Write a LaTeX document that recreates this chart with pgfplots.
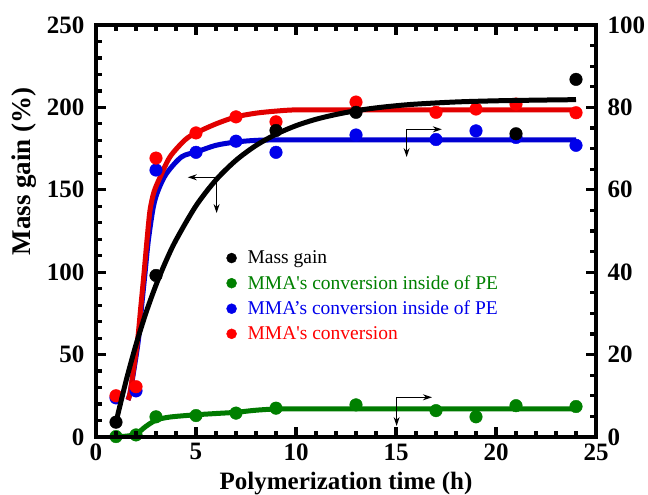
\documentclass[border=0pt]{standalone}
\usepackage{fontspec}
\setmainfont{Liberation Serif}
\usepackage{pgfplots}
\pgfplotsset{compat=1.18}
\usetikzlibrary{arrows.meta}
\definecolor{gpt}{RGB}{0,128,0}
\definecolor{gln}{RGB}{0,122,0}
\definecolor{bpt}{RGB}{0,0,235}
\definecolor{bln}{RGB}{0,0,210}
\definecolor{rpt}{RGB}{255,0,0}
\definecolor{rln}{RGB}{225,0,0}
\pgfplotsset{
  common/.style={
    width=500pt,height=412pt,scale only axis,
    xmin=0,xmax=25,
    clip=false,
    tick align=inside,
    major tick length=10pt,
    minor tick length=6pt,
    every tick/.style={black,line width=3.2pt},
    axis line style={line width=4pt},
    ticklabel style={font=\fontsize{25}{25}\selectfont\bfseries},
    /pgf/number format/assume math mode=true,
  }
}
\begin{document}
\begin{tikzpicture}
% right-hand scale: conversions (0-100)
\begin{axis}[common,
  ymin=0,ymax=100,
  axis y line*=right,
  hide x axis,
  ytick={0,20,...,100},
  minor y tick num=3,
  yticklabel style={xshift=8pt},
]
% green: MMA's conversion inside of PE
\addplot[gln,line width=5pt,smooth] coordinates {
 (1,0.1)(1.5,0.2)(2,0.7)(2.5,2.6)(3,4.1)(3.5,4.7)(4,5.0)(5,5.4)(6,5.7)(7,6.0)(8,6.5)(9,6.8)(10,6.8)(12,6.8)(16,6.8)(20,6.8)(24,6.8)};
\addplot[gpt,only marks,mark=*,mark size=6.3pt] coordinates {
 (1,0.1)(2,0.5)(3,4.9)(5,5.2)(7,5.8)(9,7.0)(13,7.8)(17,6.4)(19,4.9)(21,7.6)(24,7.4)};
% blue
\addplot[bln,line width=5pt,smooth] coordinates {
 (1.6,9)(1.7,10.6)(1.87,15.5)(2.12,23.5)(2.28,31.6)(2.45,39.7)(2.62,47.8)(2.87,55.9)(3.12,60)(3.53,64)(4.28,68)(5.03,69.2)(6,70.8)(7,71.6)(8,72)(9,72.1)(12,72.1)(16,72.1)(20,72.1)(24,72.1)};
\addplot[bpt,only marks,mark=*,mark size=6.3pt] coordinates {
 (1,9.5)(2,11.2)(3,64.8)(5,69.1)(7,71.8)(9,69.1)(13,73.3)(17,72.2)(19,74.3)(21,72.7)(24,70.8)};
% red
\addplot[rln,line width=5pt,smooth] coordinates {
 (1.6,9)(1.7,10.6)(1.85,15.5)(2.08,23.5)(2.24,31.6)(2.4,39.7)(2.55,47.8)(2.7,55)(2.9,59.5)(3.2,63)(3.7,68)(4.45,72.1)(5,73.8)(6,76)(7,77.7)(8,78.6)(9,79.1)(10,79.4)(12,79.4)(16,79.4)(20,79.4)(24,79.4)};
\addplot[rpt,only marks,mark=*,mark size=6.3pt] coordinates {
 (1,10.0)(2,12.2)(3,67.7)(5,73.8)(7,77.7)(9,76.5)(13,81.3)(17,78.8)(19,79.6)(21,80.8)(24,78.7)};
\end{axis}
% left-hand scale: mass gain (0-250)
\begin{axis}[common,
  ymin=0,ymax=250,
  xtick={0,5,...,25},
  minor x tick num=4,
  ytick={0,50,...,250},
  minor y tick num=4,
  ytick pos=left,
  xtick pos=both,
  xticklabel pos=bottom,
  yticklabel style={xshift=-8pt},
  xticklabel style={yshift=-3pt},
  xlabel={Polymerization time (h)},
  ylabel={Mass gain (\%)},
  xlabel style={font=\fontsize{25}{25}\selectfont\bfseries,at={(axis description cs:0.5,-0.113)},anchor=center},
  ylabel style={font=\fontsize{27}{27}\selectfont\bfseries,at={(axis description cs:-0.144,0.645)},anchor=center},
  legend style={draw=none,fill=none,at={(axis cs:6.37,115.5)},anchor=north west,
    font=\fontsize{19.5}{21}\selectfont,row sep=6.3pt,column sep=9pt},
  legend cell align=left,
]
\addplot[black,line width=5pt,smooth,forget plot] coordinates {
 (1,9)(1.5,33.9)(2,56.0)(2.5,75.4)(3,92.2)(3.5,106.8)(4,119.5)(5,140.3)(6,156.0)(7,167.9)(8,176.9)(9,183.7)(10,188.9)(11,192.8)(12,195.7)(13,198.0)(14,199.7)(15,201.0)(16,202.0)(18,203.3)(20,204.0)(22,204.4)(24,204.7)};
\addplot[black,only marks,mark=*,mark size=6.3pt,forget plot] coordinates {
 (1,9)(3,98)(9,186)(13,197)(21,184)(24,217)};
\addlegendimage{black,only marks,mark=*,mark size=5pt}
\addlegendentry{Mass gain}
\addlegendimage{gpt,only marks,mark=*,mark size=5pt}
\addlegendentry{\textcolor{gpt}{MMA\textquotesingle s conversion inside of PE}}
\addlegendimage{bpt,only marks,mark=*,mark size=5pt}
\addlegendentry{\textcolor{bpt}{MMA’s conversion inside of PE}}
\addlegendimage{rpt,only marks,mark=*,mark size=5pt}
\addlegendentry{\textcolor{rpt}{MMA\textquotesingle s conversion}}
% arrows pointing to the axis of each series
\draw[line width=1.2pt,-{Stealth[length=9pt,width=6pt]}] (axis cs:6.03,157.6) -- (axis cs:4.59,157.6);
\draw[line width=1.2pt,-{Stealth[length=9pt,width=6pt]}] (axis cs:6.03,157.6) -- (axis cs:6.03,135.9);
\draw[line width=1.2pt,-{Stealth[length=9pt,width=6pt]}] (axis cs:15.53,186.7) -- (axis cs:17.29,186.7);
\draw[line width=1.2pt,-{Stealth[length=9pt,width=6pt]}] (axis cs:15.53,186.7) -- (axis cs:15.53,169.9);
\draw[line width=1.2pt,-{Stealth[length=9pt,width=6pt]}] (axis cs:15.03,24.1) -- (axis cs:16.8,24.1);
\draw[line width=1.2pt,-{Stealth[length=9pt,width=6pt]}] (axis cs:15.03,24.1) -- (axis cs:15.03,6.7);
\coordinate (SW) at (rel axis cs:0,0);
\coordinate (NE) at (rel axis cs:1,1);
\end{axis}
\pgfresetboundingbox
\path ([shift={(-96pt,-58pt)}]SW) rectangle ([shift={(52pt,25pt)}]NE);
\end{tikzpicture}
\end{document}
